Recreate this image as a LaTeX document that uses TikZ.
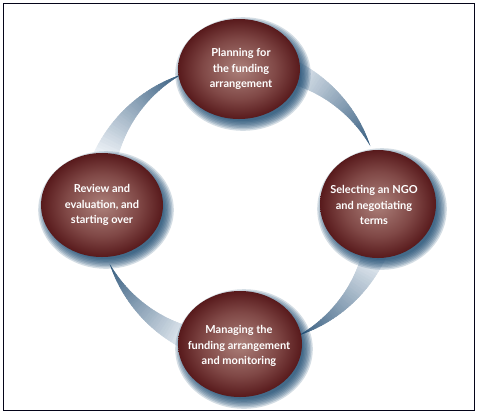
\documentclass[tikz,border=0pt]{standalone}
\usepackage{fontspec}
\setmainfont{Lato}
\usetikzlibrary{shapes.geometric,calc}
\definecolor{maroonin}{RGB}{172,128,122}
\definecolor{maroonmid}{RGB}{128,72,70}
\definecolor{maroonout}{RGB}{88,26,28}
\definecolor{shadowblue}{RGB}{22,70,110}
\definecolor{arclight}{RGB}{236,241,246}
\definecolor{arcdark}{RGB}{58,96,130}
\definecolor{framec}{RGB}{5,5,25}
\pgfdeclareradialshading{ellshade}{\pgfpoint{0bp}{0bp}}{color(0bp)=(maroonin); color(15bp)=(maroonmid); color(25bp)=(maroonout); color(50bp)=(maroonout)}
\tikzset{
  ellbox/.style={ellipse, shading=ellshade, inner sep=0pt},
  lbl/.style={text=white, align=center, inner sep=0pt, font=\fontsize{11}{15.5}\selectfont\bfseries},
  framebox/.style={draw=framec, line width=1.6pt}
}
\begin{document}
\begin{tikzpicture}[x=1pt,y=-1pt]
\useasboundingbox (0,0) rectangle (479,416);
\fill[white] (0,0) rectangle (479,416);
% crescents along the cycle
\begin{scope}[shift={(240,205)}]
\foreach \k in {0,...,3}{
  \foreach \i in {0,...,39}{
    \pgfmathsetmacro\ta{-70+90*\k+45*\i/40}
    \pgfmathsetmacro\tb{-70+90*\k+45*(\i+1)/40}
    \pgfmathsetmacro\roa{143+12*(1-\i/40)}
    \pgfmathsetmacro\rob{143+12*(1-(\i+1)/40)}
    \pgfmathsetmacro\ria{143-12*(1-\i/40)}
    \pgfmathsetmacro\rib{143-12*(1-(\i+1)/40)}
    \pgfmathtruncatemacro\pc{100*\i/39}
    \colorlet{segc}{arcdark!\pc!arclight}
    \filldraw[fill=segc, draw=segc, line width=0.4pt] (\ta:\roa) -- (\tb:\rob) -- (\tb:\rib) -- (\ta:\ria) -- cycle;
  }
}
\end{scope}
% shadows and ellipses
\foreach \nm/\cx/\cy/\rx/\ry in {plan/239/69/61/50, sel/378/204/58/54, man/240/344/62/53, rev/102/205/61/52}{
  \foreach \s in {0,...,7}{
    \pgfmathsetmacro\sx{\rx-3+1.4*\s}
    \pgfmathsetmacro\sy{\ry-3+1.4*\s}
    \fill[shadowblue, opacity=0.18] (\cx+4,\cy+5) ellipse [x radius=\sx, y radius=\sy];
  }
  \node[ellbox, minimum width=2*\rx, minimum height=2*\ry] (\nm) at (\cx,\cy) {};
}
\node[lbl] (plan-t) at (241,69) {Planning for\\the funding\\arrangement};
\node[lbl] (sel-t) at (374,205) {Selecting an NGO\\and negotiating\\terms};
\node[lbl] (man-t) at (239,346) {Managing the\\funding arrangement\\and monitoring};
\node[lbl] (rev-t) at (102,205) {Review and\\evaluation, and\\starting over};
\draw[framebox] (3.3,3.3) rectangle (474.5,410.5);
\end{tikzpicture}
\end{document}
